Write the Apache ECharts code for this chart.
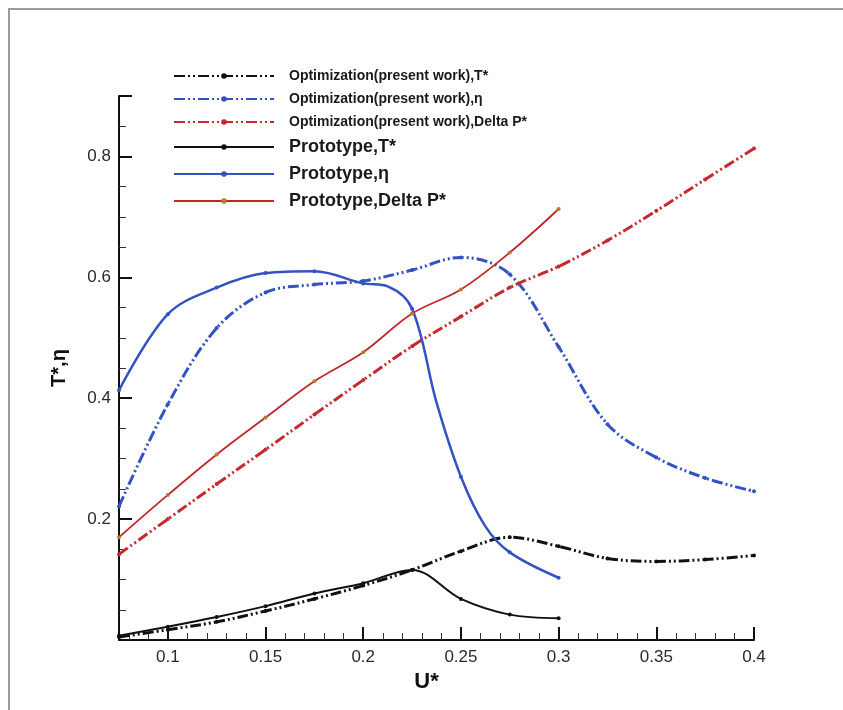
<!DOCTYPE html>
<html>
<head>
<meta charset="utf-8">
<title>T*, eta, Delta P* vs U*</title>
<script src="https://cdn.jsdelivr.net/npm/echarts@6/dist/echarts.min.js"></script>
<style>
    html, body { margin: 0; padding: 0; background: #fff; }
    #chart { width: 843px; height: 710px; }
</style>
</head>
<body>
<div id="chart"></div>
<script>
// U* stations (optimization runs go to 0.4, the prototype stops at 0.3)
var uOpt = [0.075, 0.1, 0.125, 0.15, 0.175, 0.2, 0.225, 0.25, 0.275, 0.3, 0.325, 0.35, 0.375, 0.4];
var uProto = [0.075, 0.1, 0.125, 0.15, 0.175, 0.2, 0.225, 0.25, 0.275, 0.3];

// optimization (present work)
var optT = [0.005, 0.017, 0.030, 0.048, 0.068, 0.090, 0.116, 0.147, 0.170, 0.155, 0.135, 0.130, 0.133, 0.140];
var optEta = [0.221, 0.390, 0.516, 0.575, 0.588, 0.594, 0.612, 0.633, 0.605, 0.485, 0.357, 0.302, 0.268, 0.246];
var optDp = [0.142, 0.200, 0.258, 0.315, 0.373, 0.430, 0.486, 0.535, 0.583, 0.618, 0.661, 0.710, 0.762, 0.813];

// prototype
var protoT = [0.007, 0.022, 0.038, 0.056, 0.077, 0.094, 0.116, 0.068, 0.042, 0.036];
var protoDp = [0.170, 0.240, 0.307, 0.368, 0.428, 0.476, 0.540, 0.580, 0.641, 0.713];
var protoEtaU = [0.075, 0.1, 0.125, 0.15, 0.175, 0.2, 0.2125, 0.225, 0.2375, 0.25, 0.2625, 0.275, 0.3];
var protoEta = [0.413, 0.539, 0.583, 0.607, 0.610, 0.590, 0.585, 0.548, 0.393, 0.270, 0.188, 0.145, 0.103];

var names = [
    'Optimization(present work),T*',
    'Optimization(present work),\u03b7',
    'Optimization(present work),Delta P*',
    'Prototype,T*',
    'Prototype,\u03b7',
    'Prototype,Delta P*'
];

var dashDot = [11, 3, 2, 3, 2, 3];

function pairs(xs, ys) {
    return xs.map(function (x, i) { return [x, ys[i]]; });
}

// only the 0.025 stations carry a marker
function pairsMarked(xs, ys) {
    return xs.map(function (x, i) {
        var onStation = Math.abs(x * 40 - Math.round(x * 40)) < 1e-6;
        return onStation ? [x, ys[i]] : { value: [x, ys[i]], symbolSize: 0 };
    });
}

function mkSeries(name, data, color, dotColor, width, type) {
    return {
        name: name,
        type: 'line',
        data: data,
        smooth: 0.35,
        symbol: 'circle',
        symbolSize: 4,
        showSymbol: true,
        itemStyle: { color: dotColor },
        lineStyle: { color: color, width: width, type: type },
        emphasis: { disabled: true },
        z: 3
    };
}

var myChart = echarts.init(document.getElementById('chart'));

var option = {
    backgroundColor: '#fff',
    animation: false,
    textStyle: { fontFamily: 'Liberation Sans, Arial, sans-serif' },
    graphic: [{
        type: 'rect',
        silent: true,
        shape: { x: 9, y: 9, width: 900, height: 800 },
        style: { fill: 'none', stroke: '#9a9a9a', lineWidth: 2 }
    }],
    grid: { left: 119, right: 89, top: 96, bottom: 70 },
    legend: {
        orient: 'vertical',
        left: 173,
        top: 69,
        padding: 0,
        itemWidth: 100,
        itemHeight: 7,
        itemGap: 9,
        data: names,
        formatter: function (name) {
            return name.indexOf('Optimization') === 0 ? '{a|' + name + '}' : '{b|' + name + '}';
        },
        textStyle: {
            color: '#1a1a1a',
            padding: [0, 0, 0, 10],
            rich: {
                a: { fontSize: 14, fontWeight: 'bold', lineHeight: 16, color: '#1a1a1a' },
                b: { fontSize: 18, fontWeight: 'bold', lineHeight: 18, color: '#1a1a1a' }
            }
        }
    },
    xAxis: {
        type: 'value',
        min: 0.075,
        max: 0.4,
        splitNumber: 6,
        name: 'U*',
        nameLocation: 'middle',
        nameGap: 30,
        nameTextStyle: { fontSize: 22, fontWeight: 'bold', color: '#111', padding: [0, 20, 0, 0] },
        axisLine: { show: true, onZero: false, lineStyle: { color: '#111', width: 2 } },
        axisTick: { show: true, inside: true, length: 13, lineStyle: { color: '#111', width: 2 } },
        minorTick: { show: true, splitNumber: 5, length: 7, lineStyle: { color: '#333', width: 1 } },
        splitLine: { show: false },
        axisLabel: {
            color: '#2a2a2a',
            fontSize: 17,
            margin: 9,
            formatter: function (v) {
                return Math.abs(v * 20 - Math.round(v * 20)) < 1e-6 ? String(+v.toFixed(2)) : '';
            }
        }
    },
    yAxis: {
        type: 'value',
        min: 0,
        max: 0.9,
        interval: 0.2,
        name: 'T*,\u03b7',
        nameLocation: 'middle',
        nameGap: 50,
        nameRotate: 90,
        nameTextStyle: { fontSize: 20, fontWeight: 'bold', color: '#111' },
        axisLine: { show: true, onZero: false, lineStyle: { color: '#111', width: 2 } },
        axisTick: { show: true, inside: true, length: 13, lineStyle: { color: '#111', width: 2 } },
        minorTick: { show: true, splitNumber: 4, length: 7, lineStyle: { color: '#333', width: 1 } },
        splitLine: { show: false },
        axisLabel: {
            color: '#2a2a2a',
            fontSize: 17,
            margin: 8,
            formatter: function (v) {
                return (v > 0.01 && v < 0.85) ? String(+v.toFixed(1)) : '';
            }
        }
    },
    series: [
        mkSeries(names[0], pairs(uOpt, optT), '#111111', '#111111', 3, dashDot),
        mkSeries(names[1], pairs(uOpt, optEta), '#3452c4', '#3452c4', 3, dashDot),
        mkSeries(names[2], pairs(uOpt, optDp), '#c62a2f', '#c62a2f', 3, dashDot),
        mkSeries(names[3], pairs(uProto, protoT), '#111111', '#111111', 2, 'solid'),
        mkSeries(names[4], pairsMarked(protoEtaU, protoEta), '#3452c4', '#3452c4', 2.5, 'solid'),
        mkSeries(names[5], pairs(uProto, protoDp), '#c0282d', '#b97a2c', 1.8, 'solid')
    ]
};

myChart.setOption(option);
</script>
</body>
</html>
